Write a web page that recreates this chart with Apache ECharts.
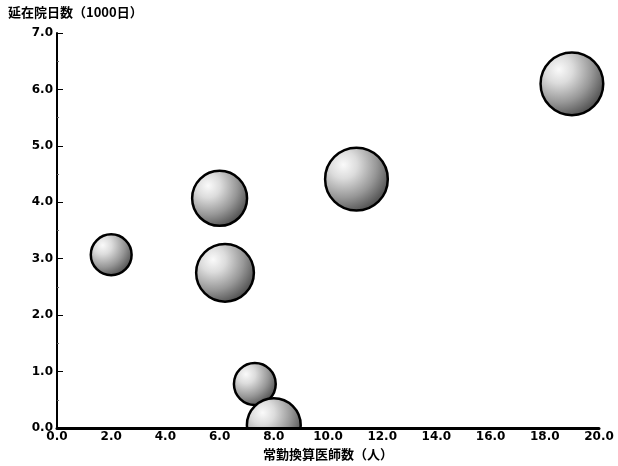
<!DOCTYPE html>
<html>
<head>
<meta charset="utf-8">
<script src="https://cdn.jsdelivr.net/npm/echarts@6/dist/echarts.min.js"></script>
<style>
html,body{margin:0;padding:0;background:#fff;}
#c{width:618px;height:466px;}
</style>
</head>
<body>
<div id="c"></div>
<script>
var xValues = [2.0, 6.0, 6.2, 7.3, 8.0, 11.05, 19.0];
var yValues = [3.07, 4.07, 2.75, 0.78, 0.05, 4.41, 6.1];
var bubbleValues = [42, 76, 84, 44, 73, 99, 99];
var xTitle = '常勤換算医師数（人）';
var yTitle = '延在院日数（1000日）';

var FONT = '"Noto Sans CJK JP", "Noto Sans", sans-serif';
var NUMFONT = '"DejaVu Sans", sans-serif';
var data = xValues.map(function (x, i) { return [x, yValues[i], bubbleValues[i]]; });

var chart = echarts.init(document.getElementById('c'), null, {renderer: 'canvas'});
chart.setOption({
  animation: false,
  backgroundColor: '#ffffff',
  grid: {left: 57, right: 19, top: 33, bottom: 38, containLabel: false, outerBoundsMode: 'none'},
  xAxis: {
    type: 'value', min: 0, max: 20, interval: 2, z: 10,
    name: xTitle, nameLocation: 'middle', nameGap: 14,
    nameTextStyle: {fontFamily: FONT, fontWeight: 'bold', fontSize: 13, color: '#000', verticalAlign: 'top', lineHeight: 13},
    axisLine: {show: true, lineStyle: {color: '#000', width: 3}},
    axisTick: {show: false},
    splitLine: {show: false},
    axisLabel: {margin: 3, fontFamily: NUMFONT, fontWeight: 'bold', fontSize: 12, color: '#000',
      formatter: function (v) { return v.toFixed(1); }}
  },
  yAxis: {
    type: 'value', min: 0, max: 7, interval: 1, z: 10,
    name: yTitle, nameLocation: 'end', nameGap: 21,
    nameTextStyle: {fontFamily: FONT, fontWeight: 'bold', fontSize: 13, color: '#000', align: 'left', verticalAlign: 'middle', padding: [0, 0, 0, -49]},
    axisLine: {show: true, lineStyle: {color: '#000', width: 2}},
    axisTick: {show: true, inside: true, length: 6, lineStyle: {color: '#000', width: 1}},
    minorTick: {show: true, splitNumber: 2, length: 2, lineStyle: {color: '#666', width: 1}},
    splitLine: {show: false},
    axisLabel: {margin: 4, fontFamily: NUMFONT, fontWeight: 'bold', fontSize: 12, color: '#000',
      formatter: function (v) { return v.toFixed(1); }}
  },
  graphic: [{
    type: 'rect', z: 5, silent: true,
    shape: {x: 0, y: 429, width: 618, height: 37},
    style: {fill: '#ffffff'}
  }],
  series: [{
    type: 'scatter',
    clip: false,
    z: 2,
    data: data,
    symbol: 'circle',
    symbolSize: function (d) { return Math.sqrt(d[2]) * 6.3; },
    itemStyle: {
      color: {
        type: 'radial', x: 0.3, y: 0.28, r: 0.85,
        colorStops: [
          {offset: 0, color: '#fafafa'},
          {offset: 0.25, color: '#dcdcdc'},
          {offset: 0.6, color: '#979797'},
          {offset: 0.85, color: '#5c5c5c'},
          {offset: 1, color: '#3a3a3a'}
        ]
      },
      borderColor: '#000',
      borderWidth: 2.5,
      opacity: 1
    },
    emphasis: {disabled: true}
  }]
});
</script>
</body>
</html>
